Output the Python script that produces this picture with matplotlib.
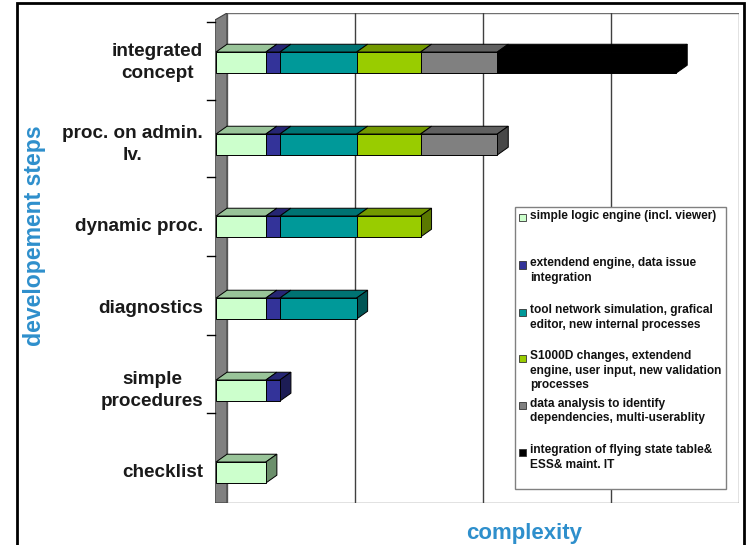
import matplotlib
matplotlib.use("Agg")
import matplotlib.pyplot as plt
from matplotlib.patches import Polygon, Rectangle

plt.rcParams["font.family"] = ["Liberation Sans", "DejaVu Sans"]

# development steps, bottom to top
steps = ["checklist", "simple\nprocedures", "diagnostics", "dynamic proc.",
         "proc. on admin.\nlv.", "integrated\nconcept"]

# complexity share of each component per step
simple_logic = [3.9, 3.9, 3.9, 3.9, 3.9, 3.9]
extended_engine = [0, 1.1, 1.1, 1.1, 1.1, 1.1]
tool_network = [0, 0, 6.0, 6.0, 6.0, 6.0]
s1000d = [0, 0, 0, 5.0, 5.0, 5.0]
data_analysis = [0, 0, 0, 0, 6.0, 6.0]
flying_state = [0, 0, 0, 0, 0, 14.0]

components = [
    "simple logic engine (incl. viewer)",
    "extendend engine, data issue\nintegration",
    "tool network simulation, grafical\neditor, new internal processes",
    "S1000D changes, extendend\nengine, user input, new validation\nprocesses",
    "data analysis to identify\ndependencies, multi-userablity",
    "integration of flying state table&\nESS& maint. IT",
]
series = [simple_logic, extended_engine, tool_network, s1000d, data_analysis, flying_state]

# front / top / side face colours
face_colors = [
    ("#CCFFCC", "#99C499", "#6B8F6B"),
    ("#333399", "#262673", "#1C1C55"),
    ("#009999", "#007373", "#005555"),
    ("#99CC00", "#739900", "#5A7800"),
    ("#808080", "#606060", "#484848"),
    ("#000000", "#000000", "#000000"),
]

W, H = 746, 545
fig = plt.figure(figsize=(W / 100, H / 100), dpi=100)

def fx(px):
    return px / W

def fy(py):
    return 1 - py / H

# axes covers the side wall and the back wall
ax = fig.add_axes([fx(215), fy(503), (739 - 215) / W, (503 - 13) / H])
ax.axis("off")

DX, DY = 0.86, 0.095          # depth offset of the 3d bars
BAR_H = 0.256
XMIN, XMAX = -0.08, DX + 40.05
YMIN, YMAX = -0.372, 5.604
ax.set_xlim(XMIN, XMAX)
ax.set_ylim(YMIN, YMAX)

# back wall and gridlines
ax.add_patch(Rectangle((DX, YMIN), XMAX - DX, YMAX - YMIN, facecolor="white",
                       edgecolor="#707070", lw=1.0, zorder=0))
for g in (10, 20, 30):
    ax.plot([DX + g, DX + g], [YMIN, YMAX], color="#404040", lw=1.0, zorder=1)

# left side wall
ax.add_patch(Polygon([(XMIN, YMIN), (XMIN, YMAX - 0.085), (DX, YMAX), (DX, YMIN)],
                     closed=True, facecolor="#808080", edgecolor="#404040",
                     lw=0.8, zorder=2))

wall_ticks = [5.5, 4.54, 3.6, 2.64, 1.68, 0.73]
for t in wall_ticks:
    ax.plot([XMIN - 0.65, XMIN], [t, t], color="black", lw=1.0,
            clip_on=False, zorder=2)

# stacked 3d bars
for i in range(len(steps)):
    left = 0.0
    vals = [s[i] for s in series]
    last = max(j for j, v in enumerate(vals) if v > 0)
    for j, v in enumerate(vals):
        if v <= 0:
            continue
        front, top, side = face_colors[j]
        y0, y1 = i - BAR_H / 2, i + BAR_H / 2
        ax.add_patch(Polygon([(left, y1), (left + DX, y1 + DY),
                              (left + v + DX, y1 + DY), (left + v, y1)],
                             closed=True, facecolor=top, edgecolor="black",
                             lw=0.7, zorder=3))
        ax.add_patch(Rectangle((left, y0), v, BAR_H, facecolor=front,
                               edgecolor="black", lw=0.7, zorder=4))
        if j == last:
            r = left + v
            ax.add_patch(Polygon([(r, y0), (r + DX, y0 + DY), (r + DX, y1 + DY),
                                  (r, y1)], closed=True, facecolor=side,
                                 edgecolor="black", lw=0.7, zorder=3))
        left += v

# category labels
for i, name in enumerate(steps):
    ax.text(-1.0, i, name, ha="right", va="center", multialignment="center",
            fontsize=13.6, fontweight="bold", color="#1a1a1a",
            linespacing=1.45, clip_on=False)

# axis titles
blue = "#2E8FCC"
fig.text(fx(35), fy(236), "developement steps", rotation=90, ha="center",
         va="center", fontsize=16.6, fontweight="bold", color=blue)
fig.text(fx(524), fy(534), "complexity", ha="center", va="center",
         fontsize=16, fontweight="bold", color=blue)

# legend box
fig.patches.append(Rectangle((fx(515), fy(489)), (726 - 515) / W, (489 - 207) / H,
                             transform=fig.transFigure, facecolor="white",
                             edgecolor="#808080", lw=1.0, zorder=5))
entry_y = [218, 265, 312, 358, 405, 452]
for label, (front, _, _), py in zip(components, face_colors, entry_y):
    fig.patches.append(Rectangle((fx(519), fy(py + 3.5)), 7 / W, 7 / H,
                                 transform=fig.transFigure, facecolor=front,
                                 edgecolor="#333333", lw=0.6, zorder=6))
    fig.text(fx(530), fy(py - 7.5), label, ha="left", va="top", fontsize=8.6,
             fontweight="bold", color="#111111", linespacing=1.25, zorder=6)

# outer frame, open towards the bottom edge
fig.patches.append(Rectangle((fx(17), fy(600)), (744 - 17) / W, (600 - 3) / H,
                             transform=fig.transFigure, fill=False,
                             edgecolor="black", lw=2.0, zorder=7))

fig.savefig("out.png", dpi=100)
